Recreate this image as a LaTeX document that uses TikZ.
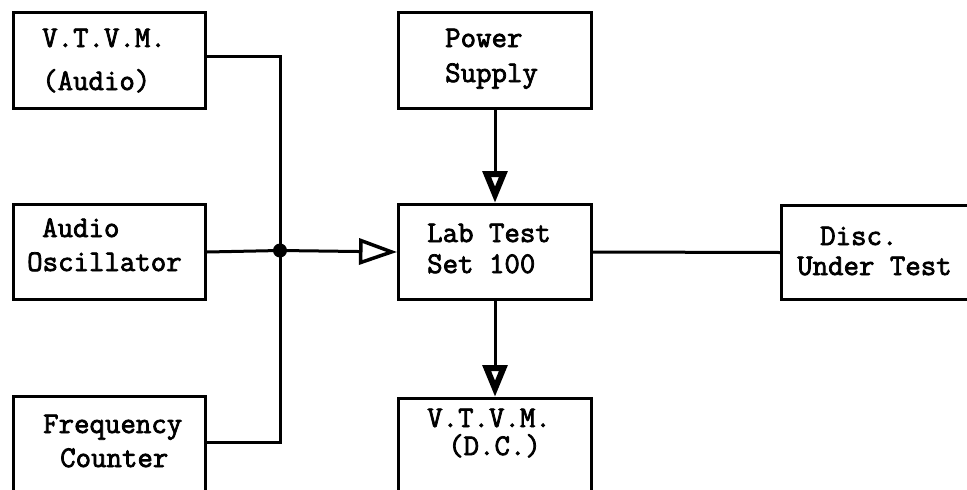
\documentclass[tikz,border=0pt]{standalone}
\usepackage{fontspec}
\newfontfamily\typer{Latin Modern Mono}[FakeBold=2.5]
\usetikzlibrary{arrows.meta,calc}

\begin{document}
\begin{tikzpicture}[x=1pt,y=-1pt,
  unit/.style={draw, line width=3pt, anchor=north west, inner sep=0pt,
    minimum width=192pt, minimum height=95pt},
  boxtext/.style={font=\typer\fontsize{30}{34}\selectfont,
    align=left, anchor=base west, inner sep=0pt},
  wire/.style={line width=3pt},
  sidearrow/.style={-{Triangle[open, length=38pt, width=26pt, line width=3.5pt]}},
  downarrow/.style={-{Triangle[open, length=32pt, width=24pt, line width=6pt]}}]
  \useasboundingbox (0,0) rectangle (967,490);
  \clip (0,0) rectangle (967,490);
  % boxes
  \node[unit, minimum height=96pt] (vtvmA) at (12,11) {};
  \node[unit] (osc) at (12,203) {};
  \node[unit, minimum height=160pt] (freq) at (12,395) {};
  \node[unit, minimum width=193pt, minimum height=96pt] (power) at (397,11) {};
  \node[unit, minimum width=193pt] (lab) at (397,203) {};
  \node[unit, minimum width=193pt, minimum height=160pt] (vtvmD) at (397,397) {};
  \node[unit, minimum width=260pt, minimum height=94pt] (disc) at (780,204) {};
  % texts (anchored on the last line)
  \node[boxtext] (vtvmAtxt) at (42,90) {V.T.V.M.\\[9pt](Audio)};
  \node[boxtext] (osctxt) at (27,271) {\hspace*{15pt}Audio\\Oscillator};
  \node[boxtext] (freqtxt) at (43,467) {Frequency\\\hspace*{17pt}Counter};
  \node[boxtext] (powertxt) at (445,82) {Power\\[1pt]Supply};
  \node[boxtext] (labtxt) at (427,273) {Lab Test\\[-3pt]Set 100};
  \node[boxtext] (vtvmDtxt) at (427,455) {V.T.V.M.\\[-6pt]\hspace*{21pt}(D.C.)};
  \node[boxtext] (disctxt) at (797,275) {\hspace*{23pt}Disc.\\[-4pt]Under Test};
  % wires
  \coordinate (bus) at (280,250.5);
  \coordinate (vtvmAE) at ($(vtvmA.north east)+(0,45)$);
  \coordinate (freqE) at ($(freq.north east)+(0,47)$);
  \draw[wire] (vtvmAE) -| (bus) |- (freqE);
  \draw[wire] (osc.east) -- (bus);
  \draw[wire, sidearrow] (bus) -- (lab.west);
  \fill (bus) circle (7pt);
  \draw[wire, downarrow] (power.south) -- (lab.north);
  \draw[wire, downarrow] (lab.south) -- (vtvmD.north);
  \draw[wire] (lab.east) -- (disc.west);
\end{tikzpicture}
\end{document}
